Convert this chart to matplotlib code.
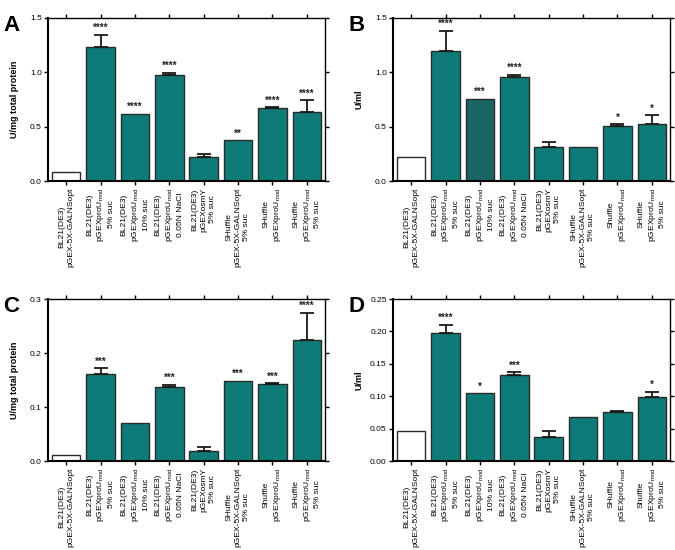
import numpy as np
import matplotlib
matplotlib.use('Agg')
import matplotlib.pyplot as plt

plt.rcParams['font.family'] = ['Liberation Sans', 'DejaVu Sans']
plt.rcParams['mathtext.fontset'] = 'custom'
plt.rcParams['mathtext.rm'] = 'Liberation Sans'
plt.rcParams['mathtext.it'] = 'Liberation Sans:italic'
plt.rcParams['mathtext.bf'] = 'Liberation Sans:bold'

MOD = r'pGEXproU$_{\mathrm{mod}}$'

# category labels per panel (small spelling differences kept as in the figure)
labels_a = ['BL21(DE3)\npGEX-5X-GALNSopt', 'BL21(DE3)\n' + MOD + '\n5% suc',
            'BL21(DE3)\n' + MOD + '\n10% suc', 'BL21(DE3)\n' + MOD + '\n0.05N NaCl',
            'BL21(DE3)\npGEXosmY\n5% suc', 'SHuffle\npGEX-5X-GALNSopt\n5% suc',
            'SHuffle\n' + MOD, 'SHuffle\n' + MOD + '\n5% suc']
labels_b = labels_a[:6] + ['Shuffle\n' + MOD, 'SHuffle\n' + MOD + '\n5% suc']
labels_c = labels_a[:6] + ['Shuffle\n' + MOD, 'SHuffle\n' + MOD + '\n5% suc']
labels_d = labels_a[:6] + ['SHuffle\n' + MOD, 'Shuffle\n' + MOD + '\n5% suc']

# A: U/mg total protein
vals_a = [0.086, 1.23, 0.617, 0.972, 0.221, 0.374, 0.672, 0.632]
err_a = [0.0, 0.115, 0.0, 0.022, 0.028, 0.0, 0.006, 0.110]
stars_a = ['', '****', '****', '****', '', '**', '****', '****']

# B: U/ml
vals_b = [0.218, 1.20, 0.758, 0.960, 0.316, 0.316, 0.506, 0.525]
err_b = [0.0, 0.18, 0.0, 0.019, 0.043, 0.0, 0.015, 0.079]
stars_b = ['', '****', '***', '****', '', '', '*', '*']

# C: U/mg total protein
vals_c = [0.011, 0.1617, 0.071, 0.137, 0.019, 0.148, 0.142, 0.225]
err_c = [0.0, 0.0099, 0.0, 0.0044, 0.007, 0.0, 0.0018, 0.050]
stars_c = ['', '***', '', '***', '', '***', '***', '****']

# D: U/ml
vals_d = [0.0458, 0.1975, 0.1044, 0.1327, 0.0365, 0.0674, 0.075, 0.0993]
err_d = [0.0, 0.0125, 0.0, 0.0041, 0.0103, 0.0, 0.0016, 0.0077]
stars_d = ['', '****', '*', '***', '', '', '', '*']

teal = '#0f7b78'
dark_teal = '#1a6662'
edge = '#2a2a2a'

fig = plt.figure(figsize=(6.75, 5.5), dpi=100)

panels = [
    ('A', [0.0711, 0.6709, 0.4104, 0.2964], vals_a, err_a, stars_a, labels_a,
     'U/mg total protein', 1.5, [0, 0.5, 1.0, 1.5], '%.1f', []),
    ('B', [0.5822, 0.6709, 0.4104, 0.2964], vals_b, err_b, stars_b, labels_b,
     'U/ml', 1.5, [0, 0.5, 1.0, 1.5], '%.1f', [2]),
    ('C', [0.0711, 0.1618, 0.4104, 0.2945], vals_c, err_c, stars_c, labels_c,
     'U/mg total protein', 0.3, [0, 0.1, 0.2, 0.3], '%.1f', []),
    ('D', [0.5822, 0.1618, 0.4104, 0.2945], vals_d, err_d, stars_d, labels_d,
     'U/ml', 0.25, [0, 0.05, 0.10, 0.15, 0.20, 0.25], '%.2f', []),
]

for letter, rect, vals, errs, stars, labels, ylab, ymax, yt, fmt, dark in panels:
    ax = fig.add_axes(rect)
    x = np.arange(len(vals))
    colors = ['white'] + [teal] * (len(vals) - 1)
    for i in dark:
        colors[i] = dark_teal
    ax.bar(x, vals, width=0.83, color=colors, edgecolor=edge, linewidth=1.0, zorder=2)
    for xi, v, e in zip(x, vals, errs):
        if e > 0:
            ax.errorbar(xi, v, yerr=[[0], [e]], fmt='none', ecolor='#1a1a1a',
                        elinewidth=1.3, capsize=5, capthick=1.3, zorder=3)
    for xi, v, e, s in zip(x, vals, errs, stars):
        if s:
            ax.text(xi, v + e + ymax * 0.012, s, ha='center', va='bottom',
                    fontsize=7, fontweight='bold', color='#222222')
    ax.set_xlim(-0.53, len(vals) - 0.47)
    ax.set_ylim(0, ymax)
    ax.set_yticks(yt)
    ax.set_yticklabels([fmt % t for t in yt])
    ax.set_xticks(x)
    ax.set_xticklabels(labels, rotation=90, ha='center', va='top',
                       multialignment='center', fontsize=6.1, linespacing=1.35)
    ax.tick_params(axis='both', direction='out', length=3, width=1, labelsize=6,
                   pad=1.5, top=True, right=True)
    ax.tick_params(axis='x', length=3, labelsize=6.1, pad=1.5)
    for side in ['left', 'bottom']:
        ax.spines[side].set_linewidth(1.5)
    for side in ['top', 'right']:
        ax.spines[side].set_linewidth(1.0)
    ax.set_ylabel(ylab, fontsize=6.5, fontweight='bold')
    ax.yaxis.set_label_coords(-0.105, 0.5)
    fig.text(rect[0] - 0.066, rect[1] + rect[3] + 0.005, letter, fontsize=16,
             fontweight='bold', ha='left', va='top')

fig.savefig('out.png', dpi=100)
